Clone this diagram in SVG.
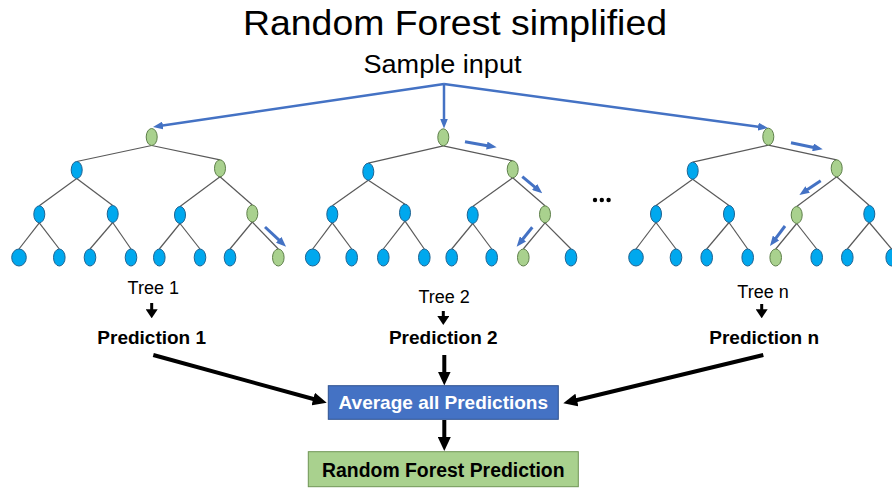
<svg xmlns="http://www.w3.org/2000/svg" width="892" height="488" viewBox="0 0 892 488">
<style>
.bg{fill:#ffffff}
.edge{stroke:#595959;stroke-width:1.2;fill:none}
.nb{fill:#00A8EE;stroke:#1F6391;stroke-width:1}
.ng{fill:#A9D18E;stroke:#5E7F4A;stroke-width:1}
.ba{stroke:#4472C4;stroke-width:3;fill:none;marker-end:url(#bh)}
.bin{stroke:#4472C4;stroke-width:2.5;fill:none;marker-end:url(#bh)}
.ka{stroke:#000;stroke-width:4;fill:none;marker-end:url(#kh)}
.ks{stroke:#000;stroke-width:3;fill:none;marker-end:url(#ks)}
.t{font-family:"Liberation Sans",Arial,sans-serif;fill:#000;text-anchor:middle}
.tb{font-family:"Liberation Sans",Arial,sans-serif;font-weight:bold;text-anchor:middle}
</style>
<defs>
<marker id="bh" viewBox="0 0 10 8" refX="2" refY="4" markerWidth="10" markerHeight="8" markerUnits="userSpaceOnUse" orient="auto"><path d="M0,0 L10,4 L0,8 z" fill="#4472C4"/></marker>
<marker id="kh" viewBox="0 0 14 13" refX="3" refY="6.5" markerWidth="14" markerHeight="13" markerUnits="userSpaceOnUse" orient="auto"><path d="M0,0 L14,6.5 L0,13 z" fill="#000"/></marker>
<marker id="ks" viewBox="0 0 9 12" refX="2" refY="6" markerWidth="9" markerHeight="12" markerUnits="userSpaceOnUse" orient="auto"><path d="M0,0 L9,6 L0,12 z" fill="#000"/></marker>
</defs>
<rect class="bg" x="0" y="0" width="892" height="488"/>

<g id="title">
<text class="t" x="455" y="35" font-size="35" textLength="424" lengthAdjust="spacingAndGlyphs">Random Forest simplified</text>
</g>
<g id="sample-input">
<text class="t" x="442.5" y="72.7" font-size="25" textLength="158" lengthAdjust="spacingAndGlyphs">Sample input</text>
</g>

<g id="connectors">
<path class="bin" d="M444,84 L160.9,125.8"/>
<path class="bin" d="M444,84 L444,120.5"/>
<path class="bin" d="M444,84 L760.1,126.9"/>
<path class="ks" d="M151.7,303 L151.7,311.3"/>
<path class="ks" d="M443.3,311 L443.3,318"/>
<path class="ks" d="M761.7,304 L761.7,311.3"/>
<path class="ka" d="M153.3,355 L316.1,399.8"/>
<path class="ka" d="M444.3,355 L444.3,374.5"/>
<path class="ka" d="M763.3,355 L574,400.7"/>
<path class="ka" d="M444.3,420 L444.3,440"/>
</g>

<g id="tree1">
<g class="edge">
<line x1="151.7" y1="145.5" x2="76.7" y2="161.5"/><line x1="151.7" y1="145.5" x2="220" y2="159.8"/>
<line x1="76.7" y1="178.5" x2="39.3" y2="205.8"/><line x1="76.7" y1="178.5" x2="112.7" y2="205.5"/>
<line x1="220" y1="176.8" x2="180" y2="206.5"/><line x1="220" y1="176.8" x2="252.3" y2="205"/>
<line x1="39.3" y1="222.8" x2="19" y2="249"/><line x1="39.3" y1="222.8" x2="59.3" y2="249"/>
<line x1="112.7" y1="222.5" x2="90" y2="249"/><line x1="112.7" y1="222.5" x2="131" y2="249"/>
<line x1="180" y1="223.5" x2="159.3" y2="249"/><line x1="180" y1="223.5" x2="200" y2="249"/>
<line x1="252.3" y1="222" x2="230" y2="249"/><line x1="252.3" y1="222" x2="278.3" y2="249"/>
</g>
<ellipse class="ng" cx="151.7" cy="137" rx="5.5" ry="8.5"/>
<ellipse class="nb" cx="76.7" cy="170" rx="5.5" ry="8.5"/>
<ellipse class="ng" cx="220" cy="168.3" rx="5.5" ry="8.5"/>
<ellipse class="nb" cx="39.3" cy="214.3" rx="5.5" ry="8.5"/>
<ellipse class="nb" cx="112.7" cy="214" rx="5.5" ry="8.5"/>
<ellipse class="nb" cx="180" cy="215" rx="5.5" ry="8.5"/>
<ellipse class="ng" cx="252.3" cy="213.5" rx="5.5" ry="8.5"/>
<ellipse class="nb" cx="19" cy="257.5" rx="7.3" ry="8.5"/>
<ellipse class="nb" cx="59.3" cy="257.5" rx="5.8" ry="8.5"/>
<ellipse class="nb" cx="90" cy="257.5" rx="5.8" ry="8.5"/>
<ellipse class="nb" cx="131" cy="257.5" rx="5.8" ry="8.5"/>
<ellipse class="nb" cx="159.3" cy="257.5" rx="5.8" ry="8.5"/>
<ellipse class="nb" cx="200" cy="257.5" rx="5.8" ry="8.5"/>
<ellipse class="nb" cx="230" cy="257.5" rx="5.8" ry="8.5"/>
<ellipse class="ng" cx="278.3" cy="257.5" rx="5.8" ry="8.5"/>
<path class="ba" d="M265,227 L280.2,241.2"/>
</g>

<g id="tree2">
<g class="edge">
<line x1="443.3" y1="145.8" x2="368.3" y2="163.2"/><line x1="443.3" y1="145.8" x2="512.7" y2="160.8"/>
<line x1="368.3" y1="180.2" x2="332.3" y2="205.8"/><line x1="368.3" y1="180.2" x2="405" y2="204.2"/>
<line x1="512.7" y1="177.8" x2="472.7" y2="206.5"/><line x1="512.7" y1="177.8" x2="545" y2="205.8"/>
<line x1="332.3" y1="222.8" x2="312.7" y2="249"/><line x1="332.3" y1="222.8" x2="351.7" y2="249"/>
<line x1="405" y1="221.2" x2="383.3" y2="249"/><line x1="405" y1="221.2" x2="424.3" y2="249"/>
<line x1="472.7" y1="223.5" x2="451.7" y2="249"/><line x1="472.7" y1="223.5" x2="491.7" y2="249"/>
<line x1="545" y1="222.8" x2="523.3" y2="249"/><line x1="545" y1="222.8" x2="571" y2="249"/>
</g>
<ellipse class="ng" cx="443.3" cy="137.3" rx="5.5" ry="8.5"/>
<ellipse class="nb" cx="368.3" cy="171.7" rx="5.5" ry="8.5"/>
<ellipse class="ng" cx="512.7" cy="169.3" rx="5.5" ry="8.5"/>
<ellipse class="nb" cx="332.3" cy="214.3" rx="5.5" ry="8.5"/>
<ellipse class="nb" cx="405" cy="212.7" rx="5.5" ry="8.5"/>
<ellipse class="nb" cx="472.7" cy="215" rx="5.5" ry="8.5"/>
<ellipse class="ng" cx="545" cy="214.3" rx="5.5" ry="8.5"/>
<ellipse class="nb" cx="312.7" cy="257.5" rx="7.3" ry="8.5"/>
<ellipse class="nb" cx="351.7" cy="257.5" rx="5.8" ry="8.5"/>
<ellipse class="nb" cx="383.3" cy="257.5" rx="5.8" ry="8.5"/>
<ellipse class="nb" cx="424.3" cy="257.5" rx="5.8" ry="8.5"/>
<ellipse class="nb" cx="451.7" cy="257.5" rx="5.8" ry="8.5"/>
<ellipse class="nb" cx="491.7" cy="257.5" rx="5.8" ry="8.5"/>
<ellipse class="ng" cx="523.3" cy="257.5" rx="5.8" ry="8.5"/>
<ellipse class="nb" cx="571" cy="257.5" rx="5.8" ry="8.5"/>
<path class="ba" d="M465,141.7 L488.8,145.9"/>
<path class="ba" d="M522.3,176.7 L536.1,188.2"/>
<path class="ba" d="M532.3,227.3 L521.7,240.5"/>
</g>

<g id="ellipsis">
<circle cx="595" cy="200" r="2.2" fill="#000"/>
<circle cx="601.8" cy="200" r="2.2" fill="#000"/>
<circle cx="608.6" cy="200" r="2.2" fill="#000"/>
</g>

<g id="treen">
<g class="edge">
<line x1="768.3" y1="145.2" x2="692.7" y2="162.2"/><line x1="768.3" y1="145.2" x2="836.7" y2="159.8"/>
<line x1="692.7" y1="179.2" x2="656" y2="205.5"/><line x1="692.7" y1="179.2" x2="729" y2="205.5"/>
<line x1="836.7" y1="176.8" x2="796.7" y2="206.5"/><line x1="836.7" y1="176.8" x2="869.3" y2="205.5"/>
<line x1="656" y1="222.5" x2="636" y2="249"/><line x1="656" y1="222.5" x2="676" y2="249"/>
<line x1="729" y1="222.5" x2="706.7" y2="249"/><line x1="729" y1="222.5" x2="747.7" y2="249"/>
<line x1="796.7" y1="223.5" x2="775.7" y2="249"/><line x1="796.7" y1="223.5" x2="816.7" y2="249"/>
<line x1="869.3" y1="222.5" x2="847.3" y2="249"/><line x1="869.3" y1="222.5" x2="891.7" y2="249"/>
</g>
<ellipse class="ng" cx="768.3" cy="136.7" rx="5.5" ry="8.5"/>
<ellipse class="nb" cx="692.7" cy="170.7" rx="5.5" ry="8.5"/>
<ellipse class="ng" cx="836.7" cy="168.3" rx="5.5" ry="8.5"/>
<ellipse class="nb" cx="656" cy="214" rx="5.5" ry="8.5"/>
<ellipse class="nb" cx="729" cy="214" rx="5.5" ry="8.5"/>
<ellipse class="ng" cx="796.7" cy="215" rx="5.5" ry="8.5"/>
<ellipse class="nb" cx="869.3" cy="214" rx="5.5" ry="8.5"/>
<ellipse class="nb" cx="636" cy="257.5" rx="7.3" ry="8.5"/>
<ellipse class="nb" cx="676" cy="257.5" rx="5.8" ry="8.5"/>
<ellipse class="nb" cx="706.7" cy="257.5" rx="5.8" ry="8.5"/>
<ellipse class="nb" cx="747.7" cy="257.5" rx="5.8" ry="8.5"/>
<ellipse class="ng" cx="775.7" cy="257.5" rx="5.8" ry="8.5"/>
<ellipse class="nb" cx="816.7" cy="257.5" rx="5.8" ry="8.5"/>
<ellipse class="nb" cx="847.3" cy="257.5" rx="5.8" ry="8.5"/>
<ellipse class="nb" cx="891.7" cy="257.5" rx="5.8" ry="8.5"/>
<path class="ba" d="M791,142.7 L814.9,147.7"/>
<path class="ba" d="M820.7,180.7 L806,190.6"/>
<path class="ba" d="M785,226 L774.8,239.6"/>
</g>

<g id="label-tree1"><text class="t" x="153.3" y="294" font-size="18">Tree 1</text></g>
<g id="label-tree2"><text class="t" x="444.2" y="303.3" font-size="18">Tree 2</text></g>
<g id="label-treen"><text class="t" x="763" y="297.5" font-size="18">Tree n</text></g>
<g id="prediction1"><text class="tb" x="151.7" y="344" font-size="19" fill="#000">Prediction 1</text></g>
<g id="prediction2"><text class="tb" x="443.3" y="344" font-size="19" fill="#000">Prediction 2</text></g>
<g id="predictionn"><text class="tb" x="764.2" y="343.5" font-size="19" fill="#000">Prediction n</text></g>

<g id="average">
<rect x="328.3" y="385.7" width="230" height="33.6" fill="#4472C4" stroke="#2F528F" stroke-width="1"/>
<text class="tb" x="443.3" y="408.5" font-size="19" fill="#ffffff">Average all Predictions</text>
</g>
<g id="rf-prediction">
<rect x="308.3" y="451.7" width="270" height="35" fill="#A9D18E" stroke="#6F9454" stroke-width="1"/>
<text class="tb" x="443.3" y="477.3" font-size="19.4" fill="#000">Random Forest Prediction</text>
</g>
</svg>
